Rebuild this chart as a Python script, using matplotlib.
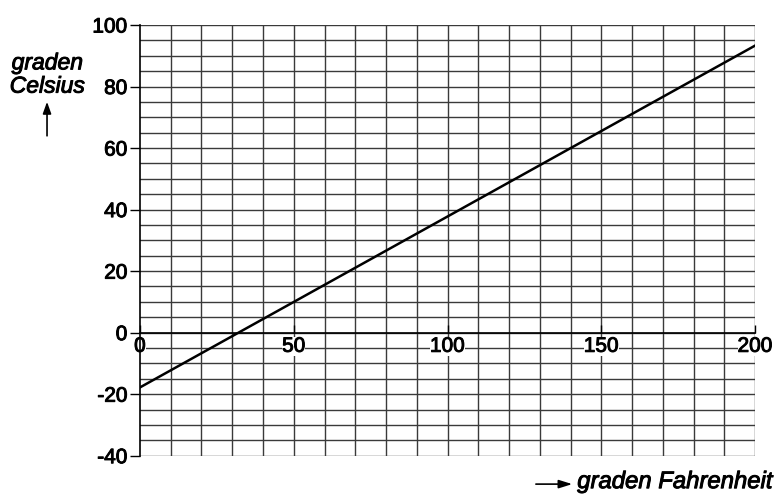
import matplotlib
matplotlib.use("Agg")
import matplotlib.pyplot as plt
import matplotlib.patheffects as pe
import numpy as np

plt.rcParams['font.family'] = ['Liberation Sans', 'DejaVu Sans']
plt.rcParams['axes.unicode_minus'] = False

# line end points (Fahrenheit -> Celsius)
fahrenheit = [0, 200]
celsius = [-17.8, 93.3]

x_ticks = [0, 50, 100, 150, 200]
y_ticks = [-40, -20, 0, 20, 40, 60, 80, 100]

heavy = [pe.withStroke(linewidth=0.7, foreground="black")]

fig = plt.figure(figsize=(7.76, 4.95), dpi=100)
ax = fig.add_axes([0.1804, 0.0794, 0.7926, 0.8701])

# grid: every 10 F, every 5 C
for gx in np.arange(10, 201, 10):
    ax.plot([gx, gx], [-40, 100], color="#3a3a3a", linewidth=1.0, zorder=1)
for gy in np.arange(-40, 101, 5):
    ax.plot([0, 200], [gy, gy], color="#3a3a3a", linewidth=1.0, zorder=1)

ax.plot(fahrenheit, celsius, color="black", linewidth=1.8, zorder=3)

ax.set_xlim(0, 200)
ax.set_ylim(-40, 100)

ax.spines["top"].set_visible(False)
ax.spines["right"].set_visible(False)
ax.spines["bottom"].set_position(("data", 0))
ax.spines["left"].set_linewidth(1.2)
ax.spines["bottom"].set_linewidth(1.2)

ax.set_xticks(x_ticks)
ax.set_yticks(y_ticks)
ax.tick_params(axis="x", direction="in", length=6, width=1, pad=3, labelsize=15)
ax.tick_params(axis="y", direction="out", length=7, width=1, pad=2, labelsize=15)
for lbl in ax.get_xticklabels():
    lbl.set_zorder(5)
    lbl.set_bbox(dict(facecolor="white", edgecolor="none", pad=0))
    lbl.set_path_effects(heavy)
for lbl in ax.get_yticklabels():
    lbl.set_path_effects(heavy)

fig.text(0.061, 0.873, "graden", fontsize=16.5, style="italic", ha="center", va="center",
         path_effects=heavy)
fig.text(0.061, 0.826, "Celsius", fontsize=16.5, style="italic", ha="center", va="center",
         path_effects=heavy)
fig.add_artist(matplotlib.patches.FancyArrowPatch(
    (0.0606, 0.72), (0.0606, 0.80), transform=fig.transFigure,
    arrowstyle="-|>,head_length=7,head_width=2.5", color="black", linewidth=1.2))

fig.text(0.995, 0.027, "graden Fahrenheit", fontsize=17.2, style="italic", ha="right",
         va="center", path_effects=heavy)
fig.add_artist(matplotlib.patches.FancyArrowPatch(
    (0.687, 0.022), (0.741, 0.022), transform=fig.transFigure,
    arrowstyle="-|>,head_length=8,head_width=2.5", color="black", linewidth=1.2))

fig.savefig("out.png", dpi=100)
